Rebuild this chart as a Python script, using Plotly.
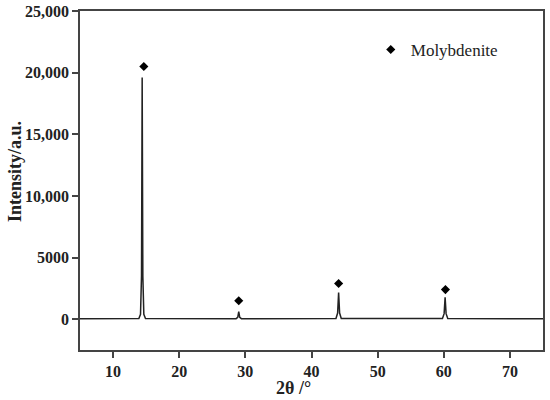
import plotly.graph_objects as go

# XRD pattern
two_theta = [5, 13.9, 14.15, 14.3, 14.4, 14.5, 14.65, 14.9,
             28.6, 28.85, 29.0, 29.15, 29.4,
             43.7, 43.95, 44.1, 44.25, 44.5,
             59.8, 60.05, 60.2, 60.35, 60.6, 75]
intensity = [30, 60, 400, 3500, 19600, 3500, 400, 60,
             40, 150, 620, 150, 40,
             50, 500, 2160, 500, 50,
             50, 450, 1785, 450, 50, 30]

# Molybdenite peak markers
mark_x = [14.65, 29.0, 44.1, 60.25]
mark_y = [20500, 1500, 2900, 2400]

ytick_vals = [0, 5000, 10000, 15000, 20000, 25000]
ytick_text = ["0", "5000", "10,000", "15,000", "20,000", "25,000"]
xtick_vals = [10, 20, 30, 40, 50, 60, 70]

font_fam = "Liberation Serif"
tfont = dict(family=font_fam, size=16, color="#222222", weight="bold")

fig = go.Figure()
fig.add_trace(go.Scatter(x=two_theta, y=intensity, mode="lines",
                         line=dict(color="#222222", width=1.5),
                         showlegend=False, hoverinfo="skip"))
fig.add_trace(go.Scatter(x=mark_x, y=mark_y, mode="markers", name="Molybdenite",
                         marker=dict(symbol="diamond", color="black", size=7)))

axis_common = dict(showgrid=False, zeroline=False, showline=True, linecolor="#444444",
                   linewidth=1.5, mirror=True, ticks="outside", tickcolor="#444444",
                   tickwidth=1.5, ticklen=6, automargin=False, tickfont=tfont)

fig.update_layout(
    width=550, height=400,
    margin=dict(l=80, r=7, t=11, b=50),
    paper_bgcolor="white", plot_bgcolor="white",
    font=dict(family=font_fam, color="#222222"),
    xaxis=dict(range=[5, 75], tickvals=xtick_vals, **axis_common),
    yaxis=dict(range=[-2500, 25000], tickvals=ytick_vals, ticktext=ytick_text, **axis_common),
    legend=dict(x=0.628, y=0.885, xanchor="left", yanchor="middle",
                bgcolor="rgba(0,0,0,0)", font=dict(family=font_fam, size=17, color="#222222")),
    annotations=[
        dict(text="2θ /°", xref="paper", yref="paper", x=(293 - 80) / 463, y=-38 / 339,
             xanchor="center", yanchor="middle", showarrow=False,
             font=dict(family=font_fam, size=18, color="#222222", weight="bold")),
        dict(text="Intensity/a.u.", xref="paper", yref="paper", x=(15 - 80) / 463,
             y=(350 - 172) / 339, xanchor="center", yanchor="middle", showarrow=False,
             textangle=-90,
             font=dict(family=font_fam, size=18, color="#222222", weight="bold")),
    ],
)

fig.write_html("out.html", config={"displayModeBar": False},
               post_script="document.body.style.margin='0';")
